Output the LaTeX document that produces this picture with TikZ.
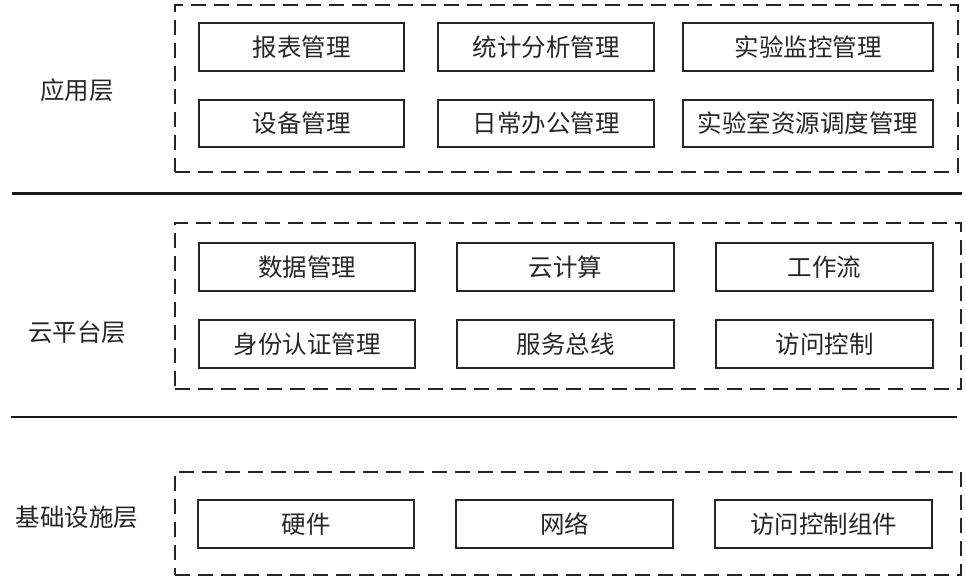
\documentclass[tikz,border=0pt]{standalone}
\usepackage{fontspec}
\setmainfont{Noto Sans CJK SC}
\begin{document}
\begin{tikzpicture}[x=1pt,y=-1pt,
  every node/.style={inner sep=0pt,outer sep=0pt},
  box/.style={draw=black!85,line width=1.8pt,rectangle,text=black!85,font=\fontsize{24.5}{25}\selectfont},
  frame/.style={draw=black!85,line width=1.9pt,dash pattern=on 15pt off 8pt,rectangle},
  layer/.style={text=black!85,font=\fontsize{24.5}{25}\selectfont},
  sep/.style={draw=black!90,line width=2.4pt}]
\useasboundingbox (0,0) rectangle (966,582);
% frames
\node[frame,minimum width=783pt,minimum height=167pt] (F1) at (566.5,88.5) {};
\node[frame,minimum width=786pt,minimum height=166pt] (F2) at (568,306) {};
\node[frame,minimum width=786pt,minimum height=103pt] (F3) at (568,523.5) {};
% separators
\coordinate (L1a) at (12,193.5); \coordinate (L1b) at (962,193.5);
\coordinate (L2a) at (11,417); \coordinate (L2b) at (957,417);
\draw[sep] (L1a) -- (L1b);
\draw[sep] (L2a) -- (L2b);
% layer labels
\node[layer] (T1) at (77,90) {应用层};
\node[layer] (T2) at (77,332) {云平台层};
\node[layer] (T3) at (77,517) {基础设施层};
% application layer
\node[box,minimum width=205pt,minimum height=48pt] (A1) at (301.5,47) {报表管理};
\node[box,minimum width=216pt,minimum height=48pt] (A2) at (546,47) {统计分析管理};
\node[box,minimum width=250pt,minimum height=48pt] (A3) at (808,47) {实验监控管理};
\node[box,minimum width=205pt,minimum height=47pt] (A4) at (301.5,123.5) {设备管理};
\node[box,minimum width=216pt,minimum height=47pt] (A5) at (546,123.5) {日常办公管理};
\node[box,minimum width=250pt,minimum height=47pt] (A6) at (808,123.5) {实验室资源调度管理};
% cloud platform layer
\node[box,minimum width=216pt,minimum height=48pt] (B1) at (307,267) {数据管理};
\node[box,minimum width=217pt,minimum height=48pt] (B2) at (565.5,267) {云计算};
\node[box,minimum width=217pt,minimum height=48pt] (B3) at (824.5,267) {工作流};
\node[box,minimum width=216pt,minimum height=48pt] (B4) at (307,344) {身份认证管理};
\node[box,minimum width=217pt,minimum height=48pt] (B5) at (565.5,344) {服务总线};
\node[box,minimum width=217pt,minimum height=48pt] (B6) at (824.5,344) {访问控制};
% infrastructure layer
\node[box,minimum width=216pt,minimum height=48pt] (C1) at (306,524) {硬件};
\node[box,minimum width=217pt,minimum height=48pt] (C2) at (564.5,524) {网络};
\node[box,minimum width=217pt,minimum height=48pt] (C3) at (823.5,524) {访问控制组件};
\end{tikzpicture}
\end{document}
